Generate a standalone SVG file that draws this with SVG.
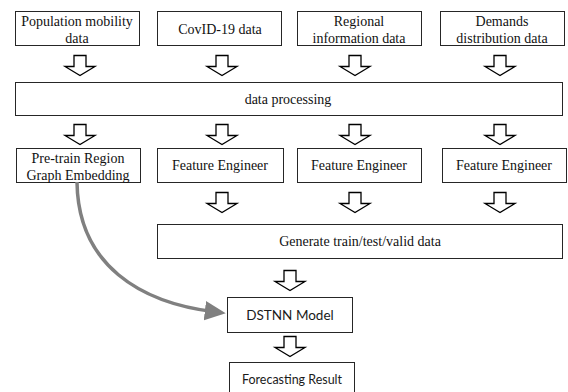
<svg xmlns="http://www.w3.org/2000/svg" width="568" height="392" viewBox="0 0 568 392">
  <style>
    .box { fill: #ffffff; stroke: #262626; stroke-width: 1; }
    .serif { font-family: 'Liberation Serif', 'Times New Roman', serif; font-size: 14px; fill: #111111; text-anchor: middle; }
    .sans { font-family: Lato, 'Open Sans', sans-serif; font-size: 13.5px; fill: #1a1a1a; text-anchor: middle; }
    .flow { fill: #ffffff; stroke: #000000; stroke-width: 1.3; }
    .link { fill: none; stroke: #808080; stroke-width: 3.5; }
  </style>
  <defs>
    <!-- hollow block arrow pointing down, origin at top centre -->
    <path id="down" d="M-6,0 H6 V11 H15 L0,20 L-15,11 H-6 Z"/>
    <marker id="grayHead" markerWidth="6" markerHeight="6" refX="3.2" refY="3" orient="auto" markerUnits="strokeWidth" viewBox="0 0 6 6">
      <path d="M0,0.2 L6,3 L0,5.8 Z" fill="#808080"/>
    </marker>
  </defs>

  <rect width="568" height="392" fill="#ffffff"/>

  <!-- input sources -->
  <g id="n-population">
    <rect class="box" x="15.5" y="11.5" width="124" height="34"/>
    <text class="serif" x="77" y="26">Population mobility</text>
    <text class="serif" x="77" y="43">data</text>
  </g>
  <g id="n-covid">
    <rect class="box" x="157.5" y="11.5" width="124" height="34"/>
    <text class="serif" x="220" y="34">CovID-19 data</text>
  </g>
  <g id="n-regional">
    <rect class="box" x="297.5" y="11.5" width="124" height="34"/>
    <text class="serif" x="359" y="26">Regional</text>
    <text class="serif" x="359" y="43">information data</text>
  </g>
  <g id="n-demands">
    <rect class="box" x="440.5" y="11.5" width="124" height="34"/>
    <text class="serif" x="502" y="26">Demands</text>
    <text class="serif" x="502" y="43">distribution data</text>
  </g>

  <g id="n-processing">
    <rect class="box" x="15.5" y="82.5" width="547" height="33"/>
    <text class="serif" x="288" y="104">data processing</text>
  </g>

  <!-- per-source preparation -->
  <g id="n-pretrain">
    <rect class="box" x="16.5" y="148.5" width="124" height="34"/>
    <text class="serif" x="78" y="163">Pre-train Region</text>
    <text class="serif" x="78" y="180">Graph Embedding</text>
  </g>
  <g id="n-feature1">
    <rect class="box" x="157.5" y="148.5" width="126" height="34"/>
    <text class="serif" x="220" y="170">Feature Engineer</text>
  </g>
  <g id="n-feature2">
    <rect class="box" x="297.5" y="148.5" width="124" height="34"/>
    <text class="serif" x="359" y="170">Feature Engineer</text>
  </g>
  <g id="n-feature3">
    <rect class="box" x="442.5" y="148.5" width="124" height="34"/>
    <text class="serif" x="504" y="170">Feature Engineer</text>
  </g>

  <g id="n-generate">
    <rect class="box" x="157.5" y="224.5" width="405" height="34"/>
    <text class="serif" x="360" y="246">Generate train/test/valid data</text>
  </g>

  <!-- model and output -->
  <g id="n-dstnn">
    <rect class="box" x="227.5" y="297.5" width="125" height="35"/>
    <text class="sans" x="290" y="320">DSTNN Model</text>
  </g>
  <g id="n-forecast">
    <rect class="box" x="229.5" y="362.5" width="125" height="40"/>
    <text class="sans" x="292" y="384" textLength="100" lengthAdjust="spacingAndGlyphs">Forecasting Result</text>
  </g>

  <g id="connectors">
    <!-- sources into data processing -->
    <use href="#down" class="flow" x="80" y="55.5"/>
    <use href="#down" class="flow" x="222" y="55.5"/>
    <use href="#down" class="flow" x="355" y="55.5"/>
    <use href="#down" class="flow" x="500" y="55.5"/>
    <!-- data processing into second row -->
    <use href="#down" class="flow" x="80" y="124.5"/>
    <use href="#down" class="flow" x="222" y="124.5"/>
    <use href="#down" class="flow" x="355" y="124.5"/>
    <use href="#down" class="flow" x="500" y="124.5"/>
    <!-- feature engineers into dataset generation -->
    <use href="#down" class="flow" x="222" y="192.5"/>
    <use href="#down" class="flow" x="355" y="192.5"/>
    <use href="#down" class="flow" x="500" y="192.5"/>
    <!-- model chain -->
    <use href="#down" class="flow" x="290" y="270.5"/>
    <use href="#down" class="flow" x="290" y="336.5"/>
    <!-- embedding fed into the model -->
    <path class="link" d="M77,182 C78,265 140,303 216,312" marker-end="url(#grayHead)"/>
  </g>
</svg>
